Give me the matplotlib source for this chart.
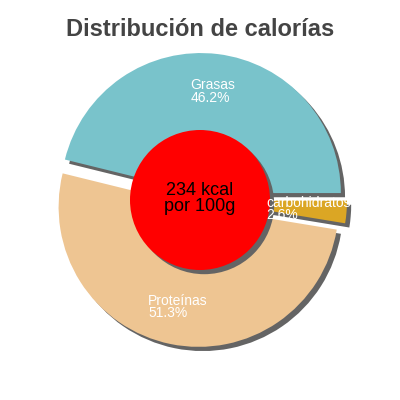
import numpy as np
import matplotlib
matplotlib.use('Agg')
from matplotlib import patches, pyplot as plt

plt.rcParams['font.family'] = ['Liberation Sans', 'DejaVu Sans']

# Data
categories = ['Grasas', 'Proteínas', 'carbohidratos']
percents = [46.2, 51.3, 2.6]
colors = ['#79c3cb', '#eec592', '#dba624']
title = 'Distribución de calorías'
center_text = '234 kcal\npor 100g'

SHADOW = '#646464'
SH_OFF = 0.03  # shadow offset in data units (~4 px)

fig = plt.figure(figsize=(4, 4), dpi=100)
ax = fig.add_axes([0, 0, 1, 1])
lim = 200 / 140
explode = [0.05] * len(percents)

# shadow pie first, then the real one on top
ax.pie(percents, colors=[SHADOW] * len(percents), startangle=0,
       explode=explode, radius=1, center=(SH_OFF, -SH_OFF),
       wedgeprops=dict(linewidth=0, zorder=1))
ax.pie(percents, colors=colors, startangle=0,
       explode=explode, radius=1, center=(0, 0),
       wedgeprops=dict(linewidth=0, zorder=2))

ax.set_xlim(-lim, lim)
ax.set_ylim(-lim, lim)
ax.set_aspect('equal')
ax.axis('off')

# center disc with shadow
ax.add_patch(patches.Circle((SH_OFF, -SH_OFF), 0.5, facecolor=SHADOW,
                            edgecolor='none', zorder=3))
ax.add_patch(patches.Circle((0, 0), 0.5, facecolor='red', edgecolor='none', zorder=4))
ax.text(0, 0.01, center_text, ha='center', va='center', fontsize=13,
        color='black', linespacing=0.95, zorder=5)

# slice labels
total = sum(percents)
start = 0.0
for name, val in zip(categories, percents):
    mid = np.deg2rad(start + 360 * val / total / 2)
    start += 360 * val / total
    ax.text(0.78 * np.cos(mid), 0.78 * np.sin(mid), f'{name}\n{val:.1f}%',
            ha='center', va='center', multialignment='left', fontsize=10,
            color='white', linespacing=0.85, zorder=6)

fig.text(0.5, 1 - 30 / 400, title, ha='center', va='center', fontsize=17,
         fontweight='bold', color='#444444')

fig.savefig('out.png', dpi=100)
plt.close('all')
